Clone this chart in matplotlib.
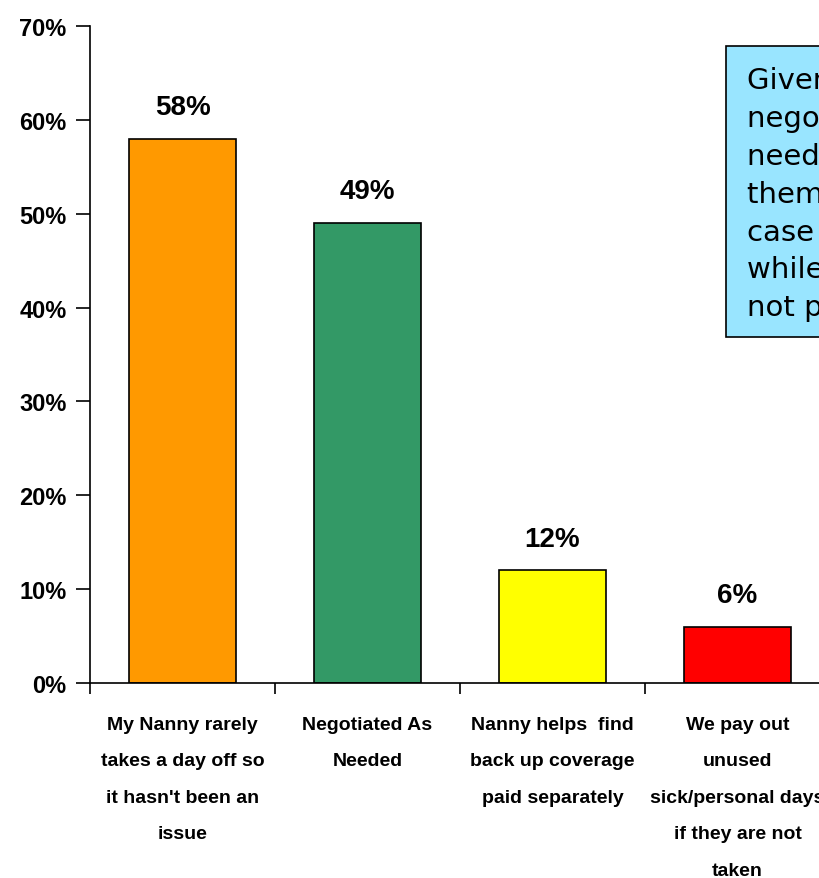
import matplotlib.pyplot as plt
from matplotlib.patches import Rectangle

categories = ["My Nanny rarely\ntakes a day off so\nit hasn't been an\nissue",
              "Negotiated As\nNeeded",
              "Nanny helps  find\nback up coverage\npaid separately",
              "We pay out\nunused\nsick/personal days\nif they are not\ntaken"]
values = [58, 49, 12, 6]
bar_colors = ["#FF9900", "#339966", "#FFFF00", "#FF0000"]
yticks = [0, 10, 20, 30, 40, 50, 60, 70]
note_lines = ["Given that most", "negotiate as", "needed, most of", "them handle it",
              "case by case", "while others do", "not pay out"]

fig = plt.figure(figsize=(8.19, 8.79), dpi=100)
# axes run past the right edge, like the cropped original
ax = fig.add_axes([90 / 819, 1 - 684 / 879, 740 / 819, 657 / 879])

x = list(range(len(values)))
ax.bar(x, values, width=0.575, color=bar_colors, edgecolor="black", linewidth=1.2)

for xi, v in zip(x, values):
    ax.text(xi, v + 2.0, f"{v}%", ha="center", va="bottom",
            fontsize=20, fontweight="bold", family="Liberation Sans")

ax.set_xlim(-0.5, 3.5)
ax.set_ylim(0, 70)
ax.set_yticks(yticks)
ax.set_yticklabels([f"{t}%" for t in yticks], fontsize=17, fontweight="bold",
                   family="Liberation Sans")
ax.tick_params(axis="y", direction="out", length=10, width=1.2, pad=7)

ax.set_xticks([-0.5, 0.5, 1.5, 2.5])
ax.set_xticklabels([])
ax.tick_params(axis="x", direction="out", length=8, width=1.2)

for xi, lab in zip(x, categories):
    ax.text(xi, -3.5, lab, ha="center", va="top", fontsize=14, fontweight="bold",
            family="Liberation Sans", linespacing=2.5,
            transform=ax.transData, clip_on=False)

for s in ["top", "right"]:
    ax.spines[s].set_visible(False)
for s in ["left", "bottom"]:
    ax.spines[s].set_linewidth(1.2)

# note box
fig.patches.append(Rectangle((726 / 819, 1 - 338 / 879), 200 / 819, 291 / 879,
                             transform=fig.transFigure, facecolor="#99E5FF",
                             edgecolor="black", linewidth=1.2))
fig.text(747 / 819, 1 - 67 / 879, "\n".join(note_lines), ha="left", va="top",
         fontsize=21, family="DejaVu Sans", linespacing=1.45)

plt.savefig("out.png", dpi=100)
